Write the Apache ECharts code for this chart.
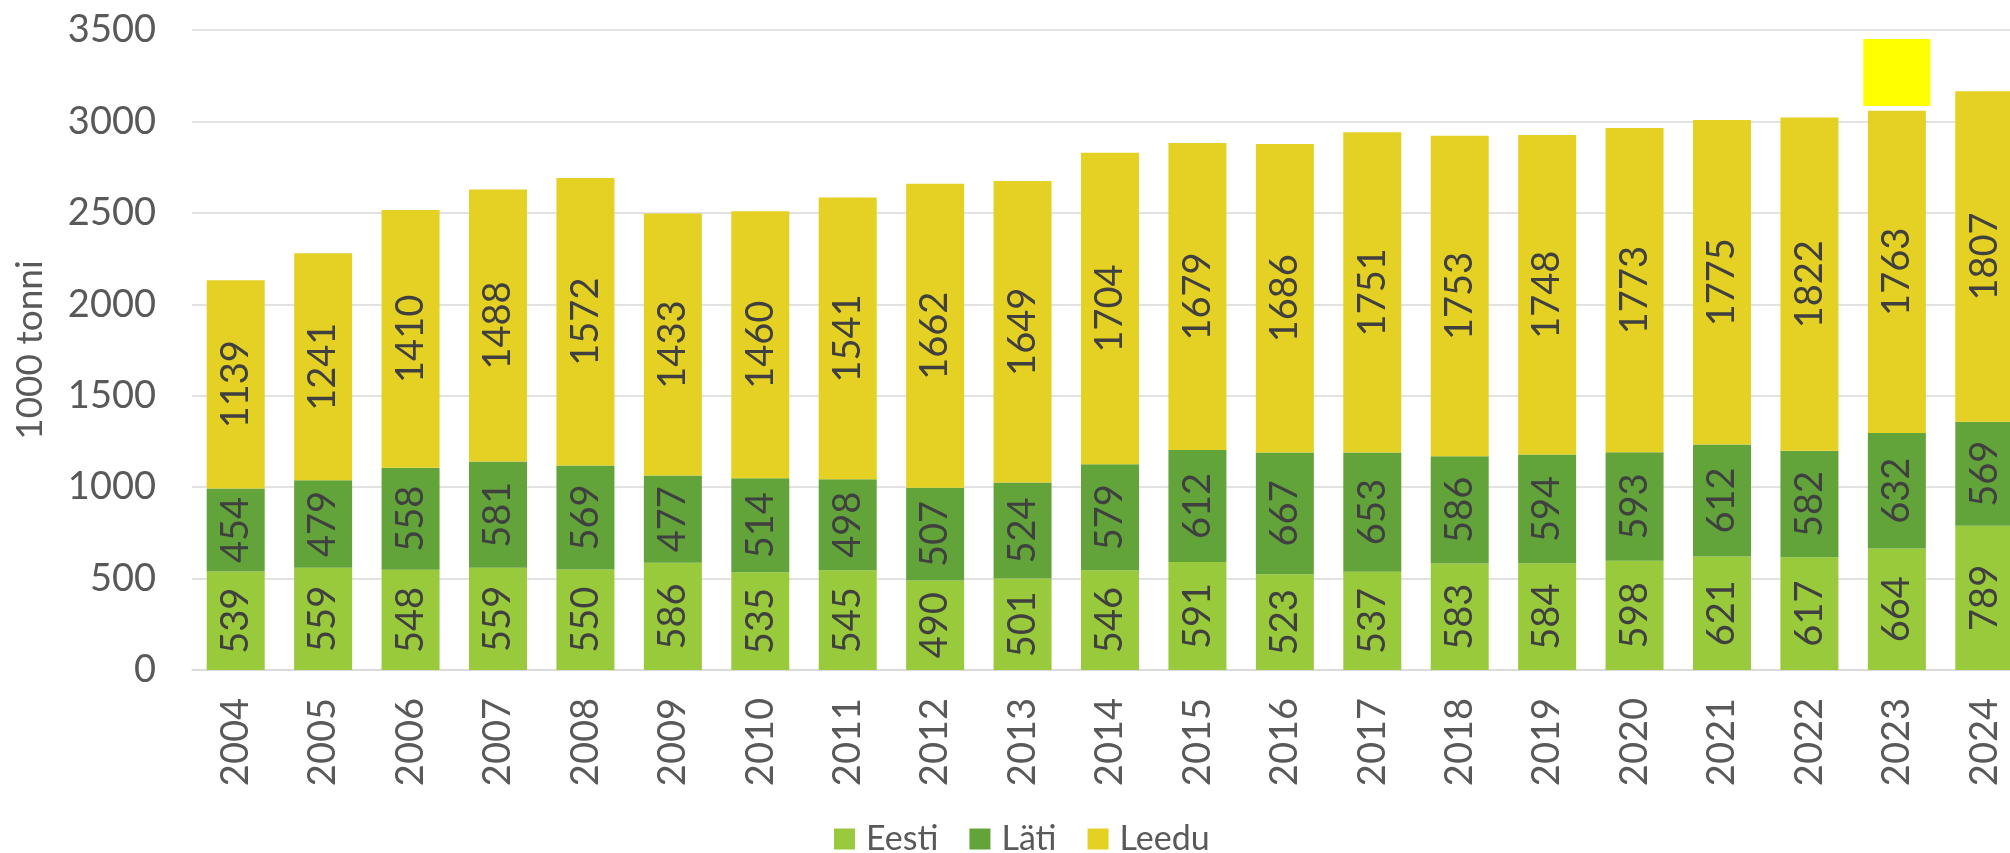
<!DOCTYPE html>
<html>
<head>
<meta charset="utf-8">
<script src="https://cdn.jsdelivr.net/npm/echarts@6/dist/echarts.min.js"></script>
<style>
  html, body { margin: 0; padding: 0; background: #fff; overflow: hidden; }
  #chart { width: 2030px; height: 853px; }
</style>
</head>
<body>
<div id="chart"></div>
<script>
const years = ['2004', '2005', '2006', '2007', '2008', '2009', '2010', '2011', '2012', '2013', '2014',
    '2015', '2016', '2017', '2018', '2019', '2020', '2021', '2022', '2023', '2024'];
const eesti = [539, 559, 548, 559, 550, 586, 535, 545, 490, 501, 546, 591, 523, 537, 583, 584, 598, 621, 617, 664, 789];
const lati = [454, 479, 558, 581, 569, 477, 514, 498, 507, 524, 579, 612, 667, 653, 586, 594, 593, 612, 582, 632, 569];
const leedu = [1139, 1241, 1410, 1488, 1572, 1433, 1460, 1541, 1662, 1649, 1704, 1679, 1686, 1751, 1753, 1748, 1773, 1775, 1822, 1763, 1807];
// highlighted box above the 2023 bar
const highlight = { year: '2023', value: 3267 };

const font = 'Lato, "Open Sans", sans-serif';
const chart = echarts.init(document.getElementById('chart'));

const label = {
    show: true,
    position: 'inside',
    rotate: 90,
    color: '#404040',
    fontSize: 38,
    fontFamily: font
};

const option = {
    animation: false,
    grid: { left: 192, top: 30, width: 1836, height: 640 },
    legend: {
        left: 829,
        top: 817,
        itemWidth: 21,
        itemHeight: 21,
        itemGap: 31,
        icon: 'rect',
        textStyle: { fontSize: 34, color: '#595959', fontFamily: font, padding: [0, 0, 0, 6] },
        data: ['Eesti', 'Läti', 'Leedu']
    },
    xAxis: {
        type: 'category',
        data: years,
        axisLine: { lineStyle: { color: '#D9D9D9', width: 1.5 } },
        axisTick: { show: false },
        axisLabel: { rotate: 90, margin: 28, fontSize: 38, color: '#595959', fontFamily: font }
    },
    yAxis: {
        type: 'value',
        min: 0,
        max: 3500,
        interval: 500,
        name: '1000 tonni',
        nameLocation: 'middle',
        nameRotate: 90,
        nameGap: 143,
        nameTextStyle: { fontSize: 37, color: '#595959', fontFamily: font },
        axisLine: { show: false },
        axisTick: { show: false },
        splitLine: { lineStyle: { color: '#D9D9D9', width: 1.5 } },
        axisLabel: {
            margin: 36, fontSize: 38, color: '#595959', fontFamily: font,
            formatter: v => String(v)
        }
    },
    series: [
        {
            name: 'Eesti', type: 'bar', stack: 'total', barWidth: 58,
            itemStyle: { color: '#99CA3C' }, label: label, data: eesti
        },
        {
            name: 'Läti', type: 'bar', stack: 'total', barWidth: 58,
            itemStyle: { color: '#62A43A' }, label: label, data: lati
        },
        {
            name: 'Leedu', type: 'bar', stack: 'total', barWidth: 58,
            itemStyle: { color: '#E5D024' }, label: label, data: leedu,
            markPoint: {
                symbol: 'rect',
                symbolSize: 67,
                itemStyle: { color: '#FFFF00' },
                label: { show: false },
                data: [{ coord: [highlight.year, highlight.value] }]
            }
        }
    ]
};

chart.setOption(option);
</script>
</body>
</html>
